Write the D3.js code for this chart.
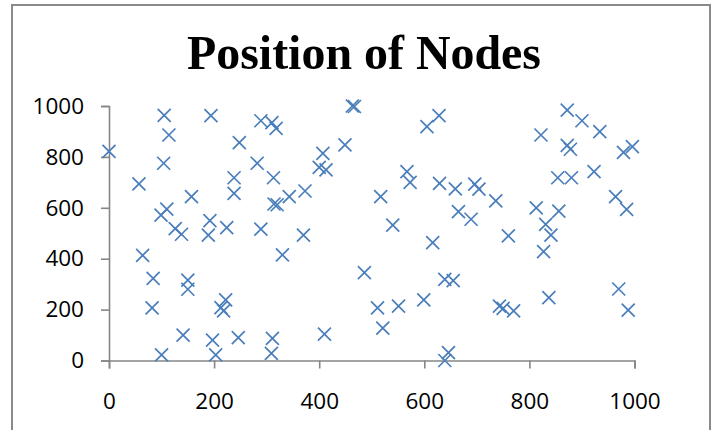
<!DOCTYPE html>
<html>
<head>
<meta charset="utf-8">
<script src="https://cdn.jsdelivr.net/npm/d3@7"></script>
<style>
  html, body { margin: 0; padding: 0; background: #fff; }
  svg { display: block; }
</style>
</head>
<body>
<svg id="chart" width="719" height="430"></svg>
<script>
// Node coordinates (x, y) on a 1000 x 1000 field
const nodeX = [0, 57, 64, 82, 84, 100, 99, 104, 105, 110, 114, 126, 138, 141, 150, 150, 157, 189, 192, 194,
  197, 203, 213, 218, 222, 224, 238, 238, 246, 248, 282, 289, 289, 310, 318, 313, 314, 320, 311, 309,
  330, 343, 370, 373, 400, 407, 410, 413, 449, 463, 467, 486, 511, 517, 521, 540, 551, 567, 573, 599,
  605, 616, 628, 629, 639, 639, 646, 655, 659, 665, 689, 696, 704, 736, 743, 750, 760, 770, 813, 822,
  827, 831, 837, 841, 854, 856, 872, 872, 878, 880, 900, 923, 934, 964, 970, 979, 985, 988, 996];
const nodeY = [822, 694, 413, 207, 323, 22, 571, 775, 963, 595, 886, 518, 496, 100, 316, 280, 644, 493, 550, 962,
  80, 22, 208, 195, 238, 522, 718, 657, 90, 856, 775, 942, 516, 935, 912, 718, 615, 612, 87, 28,
  415, 644, 493, 666, 759, 814, 104, 749, 847, 1000, 998, 345, 207, 644, 127, 532, 214, 742, 700, 238,
  919, 463, 962, 696, 319, 0, 31, 314, 674, 585, 555, 693, 673, 627, 214, 205, 490, 195, 600, 886,
  428, 535, 247, 493, 718, 587, 984, 845, 830, 718, 942, 742, 899, 644, 281, 818, 594, 198, 840];

const xTicks = [0, 200, 400, 600, 800, 1000];
const yTicks = [0, 200, 400, 600, 800, 1000];
const chartTitle = "Position of Nodes";

const svg = d3.select("#chart");

// outer chart frame
svg.append("rect")
  .attr("x", 12).attr("y", 5)
  .attr("width", 698).attr("height", 440)
  .attr("fill", "#fff")
  .attr("stroke", "#8a8a8a")
  .attr("stroke-width", 2);

const x = d3.scaleLinear().domain([0, 1000]).range([109, 634.5]);
const y = d3.scaleLinear().domain([0, 1000]).range([360.5, 106]);

// title
const title = svg.append("text")
  .attr("x", 364).attr("y", 69)
  .attr("text-anchor", "middle")
  .attr("font-family", "'Liberation Serif', 'Times New Roman', serif")
  .attr("font-weight", "bold")
  .attr("font-size", 49)
  .attr("fill", "#000")
  .text(chartTitle);
if (title.node().getComputedTextLength() > 354) {
  title.attr("textLength", 354).attr("lengthAdjust", "spacingAndGlyphs");
}

const labelFont = "'Open Sans', 'Liberation Sans', sans-serif";
const plain = d3.format("d");

function styleAxis(g) {
  g.selectAll("path.domain, .tick line")
    .attr("stroke", "#868686")
    .attr("stroke-width", 1.6);
  g.selectAll(".tick text")
    .attr("font-family", labelFont)
    .attr("font-size", 22.5)
    .attr("fill", "#000");
}

// y axis
svg.append("g")
  .attr("transform", `translate(${x(0)},0)`)
  .call(d3.axisLeft(y).tickValues(yTicks).tickFormat(plain).tickSize(8).tickPadding(17))
  .call(g => g.attr("font-family", null).attr("font-size", null))
  .call(styleAxis);

// x axis
svg.append("g")
  .attr("transform", `translate(0,${y(0)})`)
  .call(d3.axisBottom(x).tickValues(xTicks).tickFormat(plain).tickSize(8).tickPadding(25))
  .call(g => g.attr("font-family", null).attr("font-size", null))
  .call(styleAxis);

// cross markers, one per node
const half = 6.5;
const markers = svg.append("g")
  .attr("stroke", "#4A7EBB")
  .attr("stroke-width", 1.7)
  .attr("fill", "none");

markers.selectAll("path")
  .data(d3.range(nodeX.length))
  .join("path")
  .attr("d", i => {
    const cx = x(nodeX[i]), cy = y(nodeY[i]);
    return `M${cx - half},${cy - half}L${cx + half},${cy + half}M${cx - half},${cy + half}L${cx + half},${cy - half}`;
  });
</script>
</body>
</html>
